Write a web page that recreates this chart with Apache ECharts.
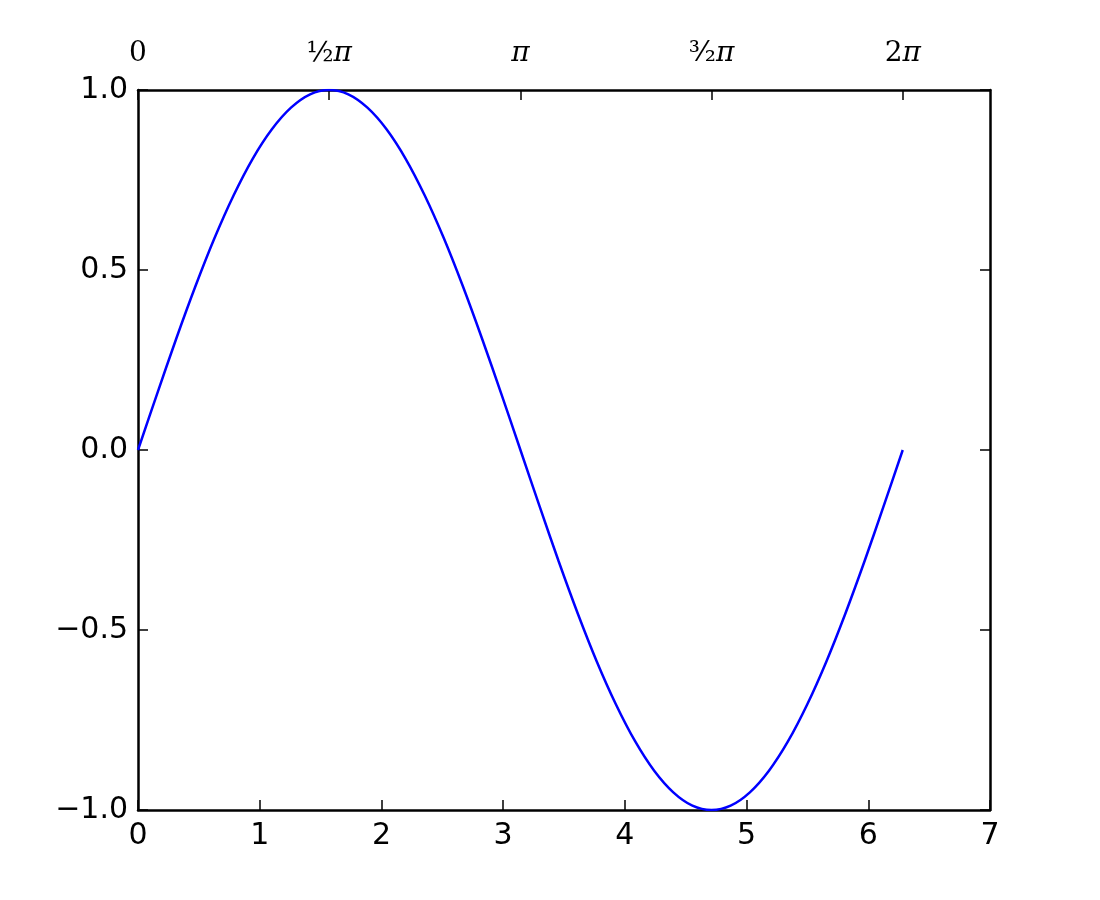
<!DOCTYPE html>
<html>
<head>
<meta charset="utf-8">
<script src="https://cdn.jsdelivr.net/npm/echarts@6/dist/echarts.min.js"></script>
<style>
  html, body { margin: 0; padding: 0; background: #fff; }
  #chart { width: 1100px; height: 900px; }
</style>
</head>
<body>
<div id="chart"></div>
<script>
// x positions (radians)
const xValues = [0, 0.157, 0.314, 0.471, 0.628, 0.785, 0.942, 1.100, 1.257, 1.414,
  1.571, 1.728, 1.885, 2.042, 2.199, 2.356, 2.513, 2.670, 2.827, 2.985,
  3.142, 3.299, 3.456, 3.613, 3.770, 3.927, 4.084, 4.241, 4.398, 4.555,
  4.712, 4.869, 5.027, 5.184, 5.341, 5.498, 5.655, 5.812, 5.969, 6.126, 6.283];
const yValues = [0, 0.156, 0.309, 0.454, 0.588, 0.707, 0.809, 0.891, 0.951, 0.988,
  1.000, 0.988, 0.951, 0.891, 0.809, 0.707, 0.588, 0.454, 0.309, 0.156,
  0, -0.156, -0.309, -0.454, -0.588, -0.707, -0.809, -0.891, -0.951, -0.988,
  -1.000, -0.988, -0.951, -0.891, -0.809, -0.707, -0.588, -0.454, -0.309, -0.156, 0];

const piTicks = [0, 1.5708, 3.1416, 4.7124, 6.2832];
const piLabels = ["{n|0}", "{n|½}{p|π}", "{p|π}", "{n|³⁄₂}{p|π}", "{n|2}{p|π}"];

const chart = echarts.init(document.getElementById("chart"));

const lineData = xValues.map(function (x, i) { return [x, yValues[i]]; });

// fresh objects each time, echarts doesn't like shared option objects
function axisLine() {
  return { show: true, onZero: false, lineStyle: { color: "#000", width: 2.5 } };
}
function axisTick(extra) {
  return Object.assign({ show: true, inside: true, length: 10, lineStyle: { color: "#000", width: 1.5 } }, extra || {});
}

const option = {
  animation: false,
  grid: { left: 138, right: 110, top: 90, bottom: 90 },
  xAxis: [
    {
      type: "value",
      position: "bottom",
      min: 0,
      max: 7,
      interval: 1,
      axisLine: axisLine(),
      axisTick: axisTick(),
      splitLine: { show: false },
      axisLabel: {
        margin: 11,
        color: "#000",
        fontSize: 30,
        fontFamily: "DejaVu Sans"
      }
    },
    {
      type: "value",
      position: "top",
      min: 0,
      max: 7,
      axisLine: axisLine(),
      axisTick: axisTick({ customValues: piTicks }),
      splitLine: { show: false },
      axisLabel: {
        margin: 22,
        color: "#000",
        customValues: piTicks,
        formatter: function (v) {
          const i = piTicks.findIndex(function (t) { return Math.abs(t - v) < 1e-3; });
          return i >= 0 ? piLabels[i] : "";
        },
        rich: {
          n: { fontSize: 28, fontFamily: "DejaVu Serif", color: "#000" },
          p: { fontSize: 28, fontFamily: "DejaVu Serif", fontStyle: "italic", color: "#000" }
        }
      }
    }
  ],
  yAxis: [
    {
      type: "value",
      position: "left",
      min: -1,
      max: 1,
      interval: 0.5,
      axisLine: axisLine(),
      axisTick: axisTick(),
      splitLine: { show: false },
      axisLabel: {
        margin: 10,
        color: "#000",
        fontSize: 30,
        fontFamily: "DejaVu Sans",
        formatter: function (v) {
          return v.toFixed(1).replace("-", "\u2212");
        }
      }
    },
    {
      type: "value",
      position: "right",
      min: -1,
      max: 1,
      interval: 0.5,
      axisLine: axisLine(),
      axisTick: axisTick(),
      splitLine: { show: false },
      axisLabel: { show: false }
    }
  ],
  series: [
    {
      type: "line",
      xAxisIndex: 0,
      yAxisIndex: 0,
      data: lineData,
      showSymbol: false,
      smooth: 0.3,
      lineStyle: { color: "#0000ff", width: 2.5 }
    }
  ]
};

chart.setOption(option);
</script>
</body>
</html>
